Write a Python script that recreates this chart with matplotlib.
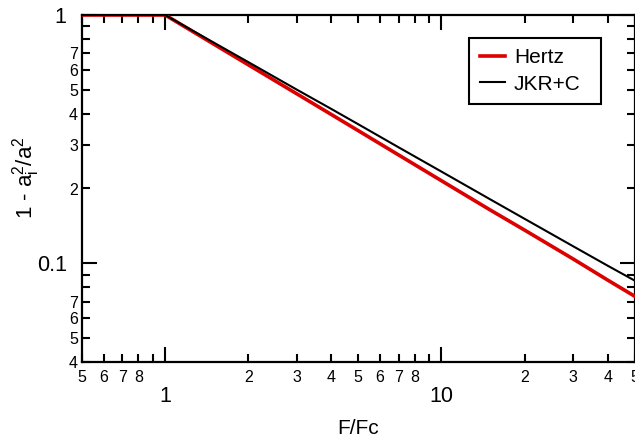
import matplotlib
matplotlib.use("Agg")
import matplotlib.pyplot as plt
from matplotlib.ticker import FixedLocator, FixedFormatter

plt.rcParams['font.family'] = ['Liberation Sans', 'DejaVu Sans']
plt.rcParams['mathtext.fontset'] = 'custom'
plt.rcParams['mathtext.rm'] = 'Liberation Sans'
plt.rcParams['mathtext.it'] = 'Liberation Sans'

# Data
force_ratio = [0.5, 1.0, 1.5, 2.0, 3.0, 4.0, 5.0, 7.0, 10.0, 15.0, 20.0, 30.0, 40.0, 50.0]
hertz = [1.0, 1.0, 0.763, 0.630, 0.481, 0.397, 0.342, 0.273, 0.215, 0.164, 0.136, 0.104, 0.0855, 0.0737]
jkr_c = [1.0, 1.0, 0.774, 0.646, 0.500, 0.418, 0.363, 0.293, 0.234, 0.181, 0.151, 0.117, 0.0977, 0.0852]

x_major = [1, 10]
x_major_labels = ["1", "10"]
x_minor = [0.5, 0.6, 0.7, 0.8, 0.9, 2, 3, 4, 5, 6, 7, 8, 9, 20, 30, 40, 50]
x_minor_labels = ["5", "6", "7", "8", "", "2", "3", "4", "5", "6", "7", "8", "", "2", "3", "4", "5"]
y_major = [0.1, 1]
y_major_labels = ["0.1", "1"]
y_minor = [0.04, 0.05, 0.06, 0.07, 0.08, 0.09, 0.2, 0.3, 0.4, 0.5, 0.6, 0.7, 0.8, 0.9]
y_minor_labels = ["4", "5", "6", "7", "", "", "2", "3", "4", "5", "6", "7", "", ""]

fig = plt.figure(figsize=(6.35, 4.4), dpi=100)
ax = fig.add_axes([82/635, 1-362/440, (634.5-82)/635, (362-15)/440])

ax.plot(force_ratio, hertz, color='#dd0000', lw=2.6, label='Hertz', zorder=3)
ax.plot(force_ratio, jkr_c, color='black', lw=1.5, label='JKR+C', zorder=4)

ax.set_xscale('log')
ax.set_yscale('log')
ax.set_xlim(0.5, 50)
ax.set_ylim(0.04, 1)

ax.xaxis.set_major_locator(FixedLocator(x_major))
ax.xaxis.set_major_formatter(FixedFormatter(x_major_labels))
ax.xaxis.set_minor_locator(FixedLocator(x_minor))
ax.xaxis.set_minor_formatter(FixedFormatter(x_minor_labels))
ax.yaxis.set_major_locator(FixedLocator(y_major))
ax.yaxis.set_major_formatter(FixedFormatter(y_major_labels))
ax.yaxis.set_minor_locator(FixedLocator(y_minor))
ax.yaxis.set_minor_formatter(FixedFormatter(y_minor_labels))

for s in ax.spines.values():
    s.set_linewidth(1.6)

ax.tick_params(which='both', direction='in', top=True, right=True, width=1.5, colors='black')
ax.tick_params(which='major', length=11)
ax.tick_params(which='minor', length=5.5)
ax.tick_params(axis='x', which='minor', labelsize=11.5, pad=6)
ax.tick_params(axis='x', which='major', labelsize=15.5, pad=17)
ax.tick_params(axis='y', which='minor', labelsize=11.5, pad=3)
ax.tick_params(axis='y', which='major', labelsize=15.5, pad=11)

ax.set_xlabel('F/Fc', fontsize=15)
ax.xaxis.set_label_coords(0.5, -0.163)
ax.set_ylabel(r'1 - $\mathregular{a_i^2/a^2}$', fontsize=16)
ax.yaxis.set_label_coords(-0.072, 0.53)

leg = ax.legend(loc='upper left', bbox_to_anchor=(0.701, 0.747, 0.239, 0.187), mode='expand',
                borderaxespad=0, fancybox=False, edgecolor='black', fontsize=15,
                handlelength=1.2, handletextpad=0.45, labelspacing=0.35, borderpad=0.5,
                framealpha=1)
leg.get_frame().set_linewidth(1.5)

fig.savefig('out.png', dpi=100)
